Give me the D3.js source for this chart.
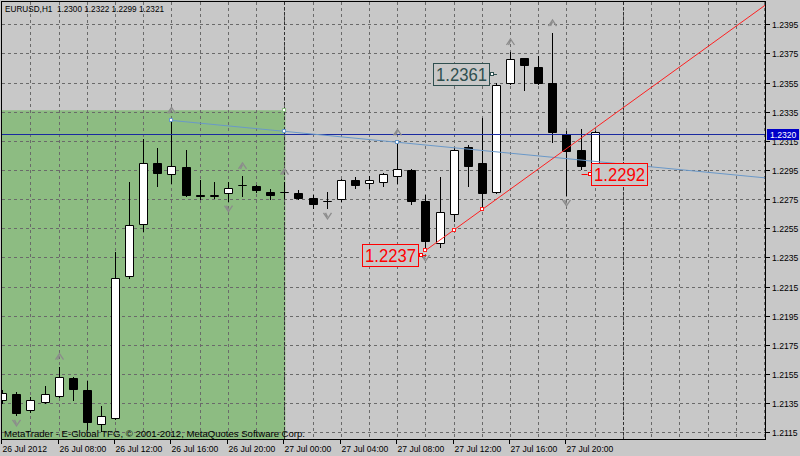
<!DOCTYPE html>
<html><head><meta charset="utf-8">
<script src="https://cdn.jsdelivr.net/npm/d3@7"></script>
<style>
html,body{margin:0;padding:0;background:#c8c8c8;}
svg{display:block;}
text{font-family:"Liberation Sans",Arial,sans-serif;}
</style></head><body>
<svg id="chart" width="800" height="456"></svg>
<script>
// ---- data (EURUSD, H1) ----
const opens  = [1.2137,1.2141,1.2130,1.2136,1.2140,1.2152,1.2144,1.2121,1.2125,1.2222,1.2258,1.2300,1.2292,1.2297,1.2278,1.2277,1.2279,1.2285,1.2284,1.2280,1.2280,1.2279,1.2276,1.2274,1.2275,1.2288,1.2286,1.2287,1.2291,1.2295,1.2274,1.2245,1.2265,1.2311,1.2300,1.2280,1.2355,1.2372,1.2366,1.2355,1.2320,1.2309,1.2300];
const highs  = [1.2144,1.2143,1.2139,1.2147,1.2160,1.2153,1.2150,1.2133,1.2239,1.2287,1.2316,1.2310,1.2329,1.2309,1.2288,1.2287,1.2287,1.2291,1.2285,1.2282,1.2287,1.2281,1.2278,1.2280,1.2289,1.2290,1.2291,1.2293,1.2314,1.2296,1.2278,1.2290,1.2310,1.2312,1.2331,1.2355,1.2376,1.2372,1.2373,1.2389,1.2322,1.2323,1.2322];
const lows   = [1.2135,1.2127,1.2129,1.2135,1.2139,1.2137,1.2117,1.2116,1.2124,1.2221,1.2253,1.2284,1.2286,1.2277,1.2275,1.2276,1.2274,1.2277,1.2280,1.2275,1.2276,1.2275,1.2269,1.2269,1.2274,1.2283,1.2283,1.2284,1.2286,1.2272,1.2240,1.2242,1.2260,1.2284,1.2268,1.2279,1.2354,1.2350,1.2354,1.2314,1.2278,1.2296,1.2299];
const closes = [1.2142,1.2128,1.2137,1.2141,1.2153,1.2145,1.2122,1.2126,1.2221,1.2257,1.2300,1.2293,1.2298,1.2278,1.2277,1.2278,1.2283,1.2285,1.2281,1.2278,1.2280,1.2276,1.2272,1.2274,1.2288,1.2285,1.2288,1.2292,1.2296,1.2274,1.2246,1.2266,1.2309,1.2298,1.2279,1.2353,1.2371,1.2367,1.2355,1.2321,1.2308,1.2298,1.2321];

const yTicks = [1.2395,1.2375,1.2355,1.2335,1.2315,1.2295,1.2275,1.2255,1.2235,1.2215,1.2195,1.2175,1.2155,1.2135,1.2115];
const timeLabels = ["26 Jul 2012","26 Jul 08:00","26 Jul 12:00","26 Jul 16:00","26 Jul 20:00","27 Jul 00:00","27 Jul 04:00","27 Jul 08:00","27 Jul 12:00","27 Jul 16:00","27 Jul 20:00"];
const timeLabelBars = [0,4,8,12,16,20,24,28,32,36,40];
const upFractalBars = [4,12,17,20,28,36,39];
const downFractalBars = [1,16,23,30,40];
const periodSeparatorBars = [20,44];
const bidPrice = 1.2320;
const blueTrendBars = [12,28];
const blueTrendPrices = [1.2329,1.2314];
const redTrendBars = [30,34];
const redTrendPrices = [1.2240,1.2268];
const rectBars = [-10,20];
const rectPrices = [1.2336,1.2090];
const labelTexts = ["1.2237","1.2361","1.2292"];
const labelBars = [30,35,41];
const labelPrices = [1.2237,1.2361,1.2292];
const labelSides = ["left","left","right"];
const labelColors = ["#ff0000","#2f4f4f","#ff0000"];
const headerText = "EURUSD,H1  1.2300 1.2322 1.2299 1.2321";
const footerText = "MetaTrader - E-Global TFG, \u00a9 2001-2012, MetaQuotes Software Corp.";

// ---- layout ----
const W = 800, H = 456;
const L = 2, T = 2, R = 766, B = 440;
const bg = "#c8c8c8";
const x = d3.scaleLinear().domain([0,54]).range([3.2,765]);
const y = d3.scaleLinear().domain([1.2115,1.2395]).range([432.3,24.3]);
const px = v => Math.round(v) + 0.5;

const svg = d3.select("#chart");
svg.append("rect").attr("width",W).attr("height",H).attr("fill",bg);

svg.append("clipPath").attr("id","plot").append("rect")
  .attr("x",L).attr("y",T).attr("width",R-L).attr("height",B-T);
const g = svg.append("g").attr("clip-path","url(#plot)");

// green rectangle
g.append("rect")
  .attr("x",x(rectBars[0])).attr("y",y(rectPrices[0]))
  .attr("width",x(rectBars[1])-x(rectBars[0]))
  .attr("height",y(rectPrices[1])-y(rectPrices[0]))
  .attr("fill","#8dbc82");

// grid
const gridColor = "#6a6a6a";
g.selectAll(".hg").data(yTicks).join("line")
  .attr("x1",L).attr("x2",R)
  .attr("y1",d=>px(y(d))).attr("y2",d=>px(y(d)))
  .attr("stroke",gridColor).attr("stroke-width",1).attr("stroke-dasharray","3,3");
const vBars = d3.range(2,55,2);
g.selectAll(".vg").data(vBars).join("line")
  .attr("x1",d=>px(x(d))-1).attr("x2",d=>px(x(d))-1)
  .attr("y1",T).attr("y2",B)
  .attr("stroke",gridColor).attr("stroke-width",1).attr("stroke-dasharray","3,3");
g.selectAll(".ps").data(periodSeparatorBars).join("line")
  .attr("x1",d=>px(x(d))-1).attr("x2",d=>px(x(d))-1)
  .attr("y1",T).attr("y2",B)
  .attr("stroke","#303030").attr("stroke-width",1).attr("stroke-dasharray","3,2");

// candles
const idx = d3.range(opens.length);
const cg = g.append("g");
idx.forEach(i=>{
  const cx = Math.round(x(i)) - 0.5;
  cg.append("line").attr("x1",cx).attr("x2",cx)
    .attr("y1",Math.round(y(highs[i]))).attr("y2",Math.round(y(lows[i]))+1)
    .attr("stroke","#000").attr("stroke-width",1);
  const top = px(y(Math.max(opens[i],closes[i])));
  const bot = px(y(Math.min(opens[i],closes[i])));
  const up = closes[i] >= opens[i];
  cg.append("path")
    .attr("d",`M${cx-4},${top}H${cx+4}V${bot}H${cx-4}Z`)
    .attr("fill",up?"#ffffff":"#000000")
    .attr("stroke","#000").attr("stroke-width",1);
});

// bid line
g.append("line").attr("x1",L).attr("x2",R)
  .attr("y1",px(y(bidPrice))).attr("y2",px(y(bidPrice)))
  .attr("stroke","#1a2aa0").attr("stroke-width",1);

// trendlines (rays)
function ray(bars, prices, color){
  const slope = (prices[1]-prices[0])/(bars[1]-bars[0]);
  const endBar = 60;
  const endPrice = prices[0] + slope*(endBar-bars[0]);
  g.append("line")
    .attr("x1",x(bars[0])-0.5).attr("y1",y(prices[0]))
    .attr("x2",x(endBar)).attr("y2",y(endPrice))
    .attr("stroke",color).attr("stroke-width",1);
  const pts = [bars[0], (bars[0]+bars[1])/2, bars[1]];
  pts.forEach(b=>{
    const p = prices[0] + slope*(b-bars[0]);
    g.append("rect").attr("x",Math.round(x(b))-2.5).attr("y",Math.round(y(p))-1.5)
      .attr("width",3).attr("height",3).attr("fill","#fff").attr("stroke",color).attr("stroke-width",1);
  });
}
ray(blueTrendBars, blueTrendPrices, "#6a98c8");
ray(redTrendBars, redTrendPrices, "#ff2020");

// rectangle corner marker
g.append("rect").attr("x",Math.round(x(rectBars[1]))-2.5).attr("y",Math.round(y(rectPrices[0]))-1.5)
  .attr("width",3).attr("height",3).attr("fill","#fff").attr("stroke","#8dbc82");

// fractals
const fc = "#8c8c8c";
upFractalBars.forEach(i=>{
  const cx = Math.round(x(i)) - 0.5, cy = y(highs[i]) - 10;
  g.append("path").attr("d",`M${cx-4},${cy+3}L${cx},${cy-3}L${cx+4},${cy+3}M${cx},${cy-1}L${cx-2},${cy+3}`)
    .attr("fill","none").attr("stroke",fc).attr("stroke-width",1.3);
});
downFractalBars.forEach(i=>{
  const cx = Math.round(x(i)) - 0.5, cy = y(lows[i]) + 8;
  g.append("path").attr("d",`M${cx-4},${cy-3}L${cx},${cy+3}L${cx+4},${cy-3}M${cx},${cy+1}L${cx-2},${cy-3}`)
    .attr("fill","none").attr("stroke",fc).attr("stroke-width",1.3);
});

// price labels
labelTexts.forEach((t,k)=>{
  const ax = x(labelBars[k]), ay = Math.round(y(labelPrices[k]));
  const col = labelColors[k];
  const bw = 56, bh = 22;
  let bx, sqx, lx1, lx2;
  if (labelSides[k]==="left"){ bx = ax-8-bw; sqx = ax-7; lx1 = ax-6; lx2 = ax; }
  else { bx = ax+9; sqx = ax+6; lx1 = ax; lx2 = ax+6; }
  g.append("line").attr("x1",lx1).attr("x2",lx2).attr("y1",ay+0.5).attr("y2",ay+0.5)
    .attr("stroke",col).attr("stroke-width",1);
  g.append("rect").attr("x",Math.round(sqx)+0.5).attr("y",ay-1.5).attr("width",3).attr("height",3)
    .attr("fill","#fff").attr("stroke",col);
  g.append("rect").attr("x",Math.round(bx)+0.5).attr("y",ay-bh/2+0.5).attr("width",bw).attr("height",bh)
    .attr("fill",bg).attr("stroke",col).attr("stroke-width",1);
  g.append("text").attr("x",Math.round(bx)+3).attr("y",ay+7)
    .attr("font-size",19).attr("fill",col)
    .attr("textLength",51).attr("lengthAdjust","spacingAndGlyphs").text(t);
});

// header & footer
svg.append("text").attr("x",5).attr("y",11.5).attr("font-size",9.4).attr("fill","#000")
  .attr("textLength",159).attr("lengthAdjust","spacingAndGlyphs")
  .style("white-space","pre").text(headerText);
svg.append("text").attr("x",4).attr("y",437).attr("font-size",9.4).attr("fill","#000")
  .attr("textLength",301).attr("lengthAdjust","spacingAndGlyphs")
  .text(footerText);

// frame
svg.append("rect").attr("x",L-0.5).attr("y",T-0.5).attr("width",R-L).attr("height",B-T)
  .attr("fill","none").attr("stroke","#000").attr("stroke-width",1);

// y axis
const ya = svg.append("g");
yTicks.forEach(v=>{
  const yy = px(y(v));
  ya.append("line").attr("x1",R).attr("x2",R+4).attr("y1",yy).attr("y2",yy).attr("stroke","#000");
  ya.append("text").attr("x",R+6).attr("y",yy+3).attr("font-size",8.6).attr("fill","#000").text(v.toFixed(4));
});
// bid price tag
const by = Math.round(y(bidPrice));
ya.append("rect").attr("x",R+1).attr("y",by-5).attr("width",32).attr("height",11).attr("fill","#0000c8");
ya.append("text").attr("x",R+4).attr("y",by+4).attr("font-size",8.6).attr("fill","#fff").text(bidPrice.toFixed(4));

// x axis
const xa = svg.append("g");
timeLabelBars.forEach((b,k)=>{
  const xx = Math.round(x(b)) - 1.5;
  xa.append("line").attr("x1",xx).attr("x2",xx).attr("y1",B).attr("y2",B+4).attr("stroke","#000");
  xa.append("text").attr("x",xx+1).attr("y",452).attr("font-size",8.6).attr("fill","#000").text(timeLabels[k]);
});
</script>
</body></html>
